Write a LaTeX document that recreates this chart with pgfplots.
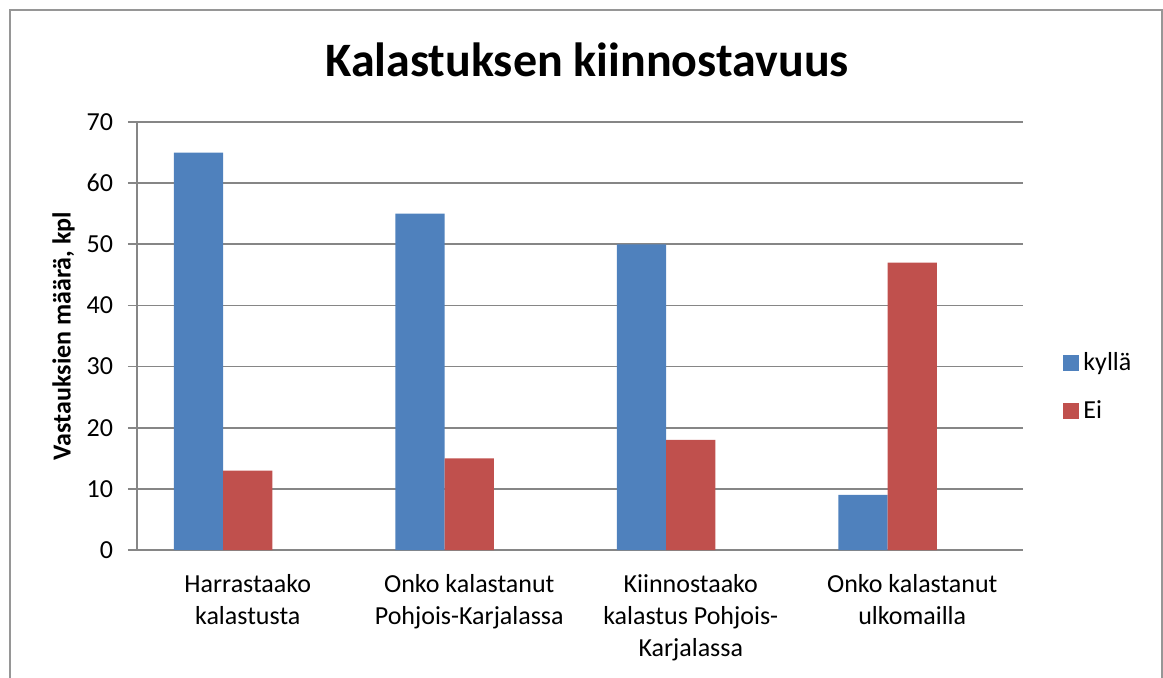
\documentclass[border=0pt]{standalone}
\usepackage{fontspec}
\setmainfont{Carlito}
\usepackage{pgfplots}
\pgfplotsset{compat=1.18}

\definecolor{xlblue}{RGB}{79,129,189}
\definecolor{xlred}{RGB}{192,80,77}
\definecolor{xlgrid}{RGB}{134,134,134}
\definecolor{xlframe}{RGB}{150,150,150}

\begin{document}
\begin{tikzpicture}
% page = 1163 x 677 px at 0.5pt per px, origin at the plot's lower left
\useasboundingbox (-68.5pt,-63.5pt) rectangle (513pt,275pt);
\draw[xlframe, line width=1pt] (-63.5pt,-80pt) -- (-63.5pt,270.25pt) -- (512.25pt,270.25pt) -- (512.25pt,-80pt);
\begin{axis}[
  at={(0pt,0pt)}, anchor=south west,
  scale only axis,
  width=443pt, height=214pt,
  xmin=-0.5, xmax=3.5,
  ymin=0, ymax=70,
  ytick={0,10,...,70},
  xtick={0,1,2,3},
  xticklabels={{Harrastaako\\kalastusta},{Onko kalastanut\\Pohjois-Karjalassa},{Kiinnostaako\\kalastus Pohjois-\\Karjalassa},{Onko kalastanut\\ulkomailla}},
  axis x line*=bottom, axis y line*=left,
  axis line style={xlgrid, line width=0.85pt, -},
  ymajorgrids, grid style={xlgrid, line width=0.85pt},
  major x tick style={draw=none},
  major y tick style={xlgrid, line width=0.85pt},
  tick align=outside, major tick length=4.5pt,
  /pgf/number format/assume math mode=true,
  ticklabel style={font=\fontsize{13}{16}\selectfont},
  xticklabel style={align=center, yshift=-4pt},
  yticklabel style={xshift=-4pt},
  ylabel={Vastauksien määrä, kpl},
  ylabel style={font=\fontsize{13}{16}\selectfont\bfseries, at={(axis description cs:-0.083,0.5)}, anchor=center},
  title={Kalastuksen kiinnostavuus},
  title style={font=\fontsize{24}{29}\selectfont\bfseries, at={(axis description cs:0.508,1.117)}, anchor=center},
  legend style={draw=none, fill=none, at={(axis description cs:1,0.381)}, anchor=west, xshift=20pt,
    font=\fontsize{13}{16}\selectfont, row sep=10pt, inner sep=0pt},
  legend cell align=left,
  legend image code/.code={\fill[#1] (0pt,-4pt) rectangle (8pt,4pt);},
]
\addplot[ybar, bar width=0.2222, bar shift=-0.2222, fill=xlblue, draw=none]
  coordinates {(0,65) (1,55) (2,50) (3,9)};
\addplot[ybar, bar width=0.2222, bar shift=0, fill=xlred, draw=none]
  coordinates {(0,13) (1,15) (2,18) (3,47)};
\legend{kyllä, Ei}
\end{axis}
\end{tikzpicture}
\end{document}
